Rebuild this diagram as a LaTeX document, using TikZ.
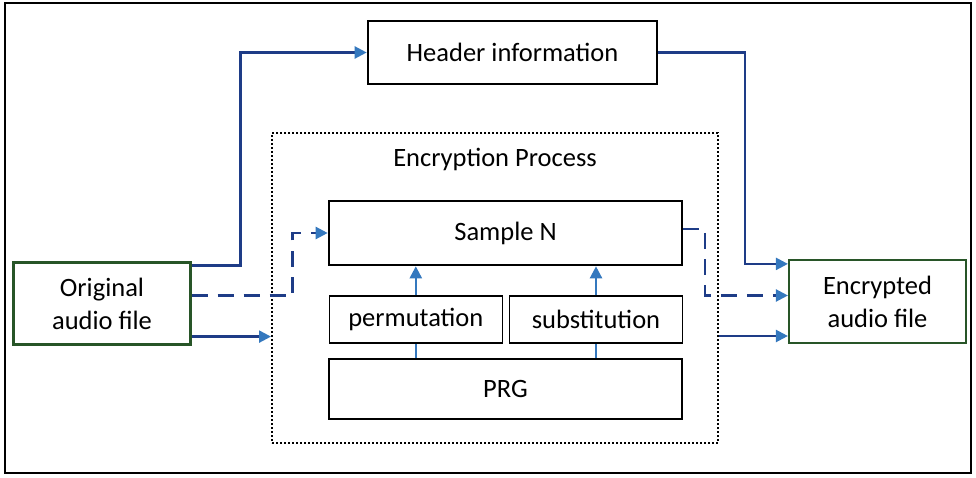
\documentclass[tikz,border=0pt]{standalone}
\usepackage{fontspec}
\setmainfont{Carlito}
\usetikzlibrary{positioning,arrows.meta}
\definecolor{lineblue}{RGB}{30,60,135}
\definecolor{tipblue}{RGB}{52,120,190}
\definecolor{filegreen}{RGB}{40,85,40}

\begin{document}
\begin{tikzpicture}[
    x=1pt, y=1pt,
    font=\fontsize{26.5}{33}\selectfont,
    box/.style={rectangle, draw=black, line width=2.6pt, inner sep=0pt, minimum width=353pt},
    opbox/.style={rectangle, draw=black, line width=1.2pt, inner sep=0pt, minimum width=173pt, minimum height=47pt},
    filebox/.style={rectangle, draw=filegreen, line width=2.2pt, align=center, inner sep=0pt, minimum width=177pt, minimum height=82pt},
    arrow/.style={draw=lineblue, line width=2.3pt, -{Triangle[length=12pt, width=12pt, color=tipblue]}},
    dasharrow/.style={arrow, dash pattern=on 16pt off 10pt},
    link/.style={draw=tipblue, line width=2.3pt}
]
\useasboundingbox (0,0) rectangle (976,477);
\draw [line width=2.6pt] (5,4) rectangle (971,474);

% Nodes
\node (header) [box, minimum width=289pt, minimum height=63pt] at (512.5,424.5) {Header information};
\node (proc) [rectangle, draw=black, line width=2pt, dotted, minimum width=446pt, minimum height=310pt] at (495,189) {};
\node (title) at ([yshift=-27pt]proc.north) {Encryption Process};

\node (sample) [box, minimum height=64pt] at (505.5,244) {Sample N};
\node (perm) [opbox, below right=29pt and 1pt of sample.south west] {permutation};
\node (subst) [opbox, right=6pt of perm] {substitution};
\node (prg) [box, minimum height=60pt] at (505.5,88) {PRG};

\node (orig) [filebox] at (102,173.5) {Original\\audio file};
\node (enc) [filebox, minimum height=83pt] at (877.5,175.5) {Encrypted\\audio file};

% Arrows
\draw [arrow] ([yshift=-4pt]orig.north east) -- ++(49,0) |- (header.west);
\draw [dasharrow] ([yshift=8pt]orig.east) -- ++(101,0) |- (sample.west);
\coordinate (in) at ([yshift=9pt]orig.south east);
\draw [arrow] (in) -- (in -| proc.west);

\draw [arrow] (header.east) -- ++(87,0) |- ([yshift=-5pt]enc.north west);
\draw [dasharrow] ([yshift=4pt]sample.east) -- ++(22,0) |- ([yshift=6pt]enc.west);
\coordinate (out) at ([yshift=-48pt]proc.east);
\draw [arrow] (out) -- (out -| enc.west);

\draw [arrow, draw=tipblue] (perm.north) -- (perm.north |- sample.south);
\draw [arrow, draw=tipblue] (subst.north) -- (subst.north |- sample.south);
\draw [link] (perm.south |- prg.north) -- (perm.south);
\draw [link] (subst.south |- prg.north) -- (subst.south);

\end{tikzpicture}
\end{document}
